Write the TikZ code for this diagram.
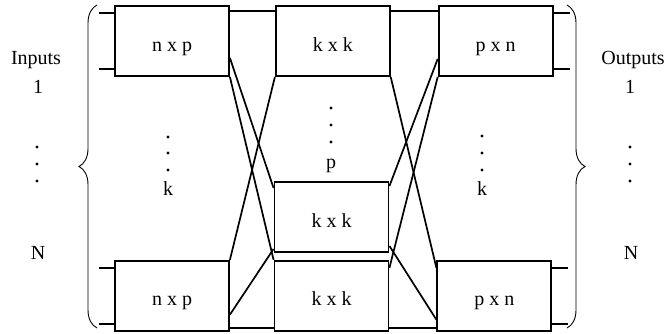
\documentclass[tikz,border=0pt]{standalone}
\usepackage{fontspec}
\setmainfont{Liberation Serif}
\usetikzlibrary{positioning,decorations.pathreplacing}

\begin{document}
\begin{tikzpicture}[x=1pt, y=-1pt,
  box/.style={draw, line width=1.8pt, minimum width=114pt, minimum height=70pt,
              inner sep=0pt, text height=20pt, text depth=0pt,
              font=\fontsize{20}{24}\selectfont},
  lbl/.style={anchor=base, inner sep=0pt, font=\fontsize{20}{24}\selectfont},
  wire/.style={line width=1.7pt},
  brc/.style={decorate, decoration={brace, amplitude=18pt}, line width=0.9pt}]
\useasboundingbox (0,0) rectangle (668,333);
% switch modules
\node[box] (in1) at (172,41) {n x p};
\node[box, below=183pt of in1] (inN) {n x p};
\node[box, right=45pt of in1] (mid1) {k x k};
\node[box] (midp) at (331.5,217) {k x k};
\node[box, below=7pt of midp] (midq) {k x k};
\node[box, right=47pt of mid1] (out1) {p x n};
\node[box, right=47pt of midq] (outN) {p x n};
% inputs and outputs
\foreach \n in {in1,inN} {
  \draw[wire] ([yshift=-8pt]\n.north west) -- ++(-15,0);
  \draw[wire] ([yshift=8pt]\n.south west) -- ++(-15,0);
}
\foreach \n in {out1,outN} {
  \draw[wire] ([yshift=-8pt]\n.north east) -- ++(16,0);
  \draw[wire] ([yshift=8pt]\n.south east) -- ++(16,0);
}
% links between stages
\draw[wire] ([yshift=-6pt]in1.north east) -- ([yshift=-6pt]mid1.north west);
\draw[wire] ([yshift=-6pt]mid1.north east) -- ([yshift=-6pt]out1.north west);
\draw[wire] ([yshift=4pt]inN.south east) -- ([yshift=4pt]midq.south west);
\draw[wire] ([yshift=4pt]midq.south east) -- ([yshift=4pt]outN.south west);
\draw[wire] ([yshift=19pt]in1.south east) -- ([yshift=-7pt]midp.north west);
\draw[wire] (in1.south east) -- (midq.north west);
\draw[wire] (inN.north east) -- (mid1.south west);
\draw[wire] ([yshift=17pt]inN.south east) -- ([yshift=4pt]midp.south west);
\draw[wire] (mid1.south east) -- ([yshift=-8pt]outN.north west);
\draw[wire] ([yshift=-5pt]midp.north east) -- ([yshift=18pt]out1.south west);
\draw[wire] ([yshift=-8pt]midq.north east) -- (out1.south west);
\draw[wire] ([yshift=7pt]midp.south east) -- ([yshift=12pt]outN.south west);
% braces
\draw[brc] (97,328) -- (97,5);
\draw[brc] (567,5) -- (567,328);
% labels
\node[lbl] (inlbl) at (36,64) {Inputs};
\node[lbl] (inlbl1) at (38,93) {1};
\node[lbl] (inlblN) at (38,259) {N};
\node[lbl] (outlbl) at (633,64) {Outputs};
\node[lbl] (outlbl1) at (630,93) {1};
\node[lbl] (outlblN) at (631,259) {N};
\node[lbl] (kin) at (168,195) {k};
\node[lbl] (pmid) at (331,168) {p};
\node[lbl] (kout) at (482,195) {k};
\foreach \x/\y in {37/147,37/164,37/181,630/147,630/164,630/181,
                   168/137,168/153,168/170,331/108,331/125,331/142,
                   482/136,482/153,482/170}
  \fill (\x,\y) circle (1.6pt);
\end{tikzpicture}
\end{document}
